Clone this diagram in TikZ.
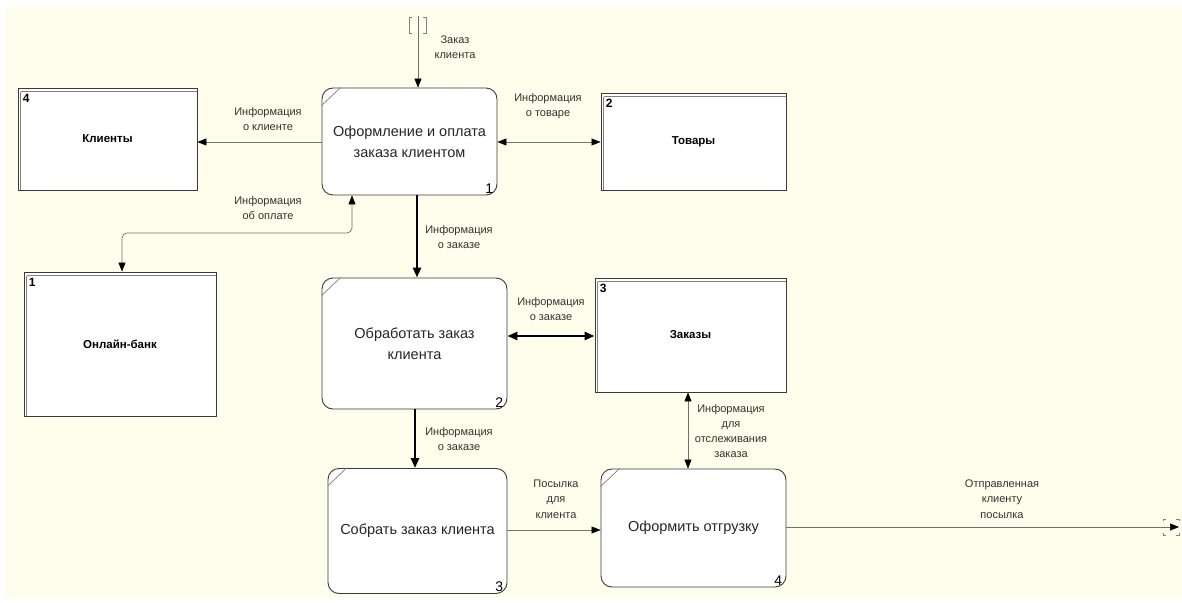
\documentclass[tikz,border=0pt]{standalone}
\usepackage{fontspec}
\setmainfont{Liberation Sans}
\usetikzlibrary{arrows.meta,calc}
\definecolor{cream}{HTML}{FFFDEC}
\definecolor{edge}{HTML}{3A3A3A}
\definecolor{thinline}{HTML}{707070}
\begin{document}
\begin{tikzpicture}[x=1pt,y=-1pt,
  proc/.style={draw=edge, line width=0.9pt, fill=white, rounded corners=11pt, inner sep=0pt, align=center, font=\fontsize{14.5}{21}\selectfont, text=black!85},
  store/.style={draw=edge, line width=0.9pt, fill=white, inner sep=0pt, font=\bfseries\fontsize{11.5}{13}\selectfont},
  lbl/.style={align=center, inner sep=0pt, font=\fontsize{11}{15.5}\selectfont, text=black!80},
  num/.style={inner sep=0pt, font=\fontsize{14}{14}\selectfont},
  snum/.style={inner sep=0pt, font=\bfseries\fontsize{12}{12}\selectfont},
  tip/.style={-{Triangle[length=9pt,width=7pt,color=black]}},
  dtip/.style={{Triangle[length=9pt,width=7pt,color=black]}-{Triangle[length=9pt,width=7pt,color=black]}},
  thinarr/.style={draw=thinline, line width=0.7pt},
  thickarr/.style={draw=black, line width=2.8pt},
  brk/.style={draw=gray, line width=0.6pt}
]
\useasboundingbox (0,0) rectangle (1182,602);
\fill[white] (0,0) rectangle (1182,602);
\fill[cream] (5,7) rectangle (1182,598);

% processes
\node[proc, minimum width=175pt, minimum height=107pt] (P1) at (409.5,141.5) {Оформление и оплата\\заказа клиентом};
\node[proc, minimum width=185pt, minimum height=131pt] (P2) at (414.5,343.5) {Обработать заказ\\клиента};
\node[proc, minimum width=179pt, minimum height=125pt] (P3) at (417.5,531) {Собрать заказ клиента};
\node[proc, minimum width=185pt, minimum height=118pt] (P4) at (693.5,528) {Оформить отгрузку};

\foreach \p/\n in {P1/1,P2/2,P3/3,P4/4}{
  \draw[draw=gray, line width=0.7pt] ($(\p.north west)+(0,18)$) -- ($(\p.north west)+(19,0)$);
  \node[num, anchor=south east] at ($(\p.south east)+(-4,-2)$) {\n};
}

% stores
\node[store, minimum width=179pt, minimum height=102pt] (S4) at (107.5,139) {Клиенты};
\node[store, minimum width=185pt, minimum height=97pt] (S2) at (693.5,141.5) {Товары};
\node[store, minimum width=192pt, minimum height=144pt] (S1) at (120,344) {Онлайн-банк};
\node[store, minimum width=191pt, minimum height=114pt] (S3) at (690.5,335) {Заказы};

\foreach \s/\n in {S4/4,S2/2,S1/1,S3/3}{
  \draw[draw=gray, line width=0.7pt] ($(\s.north west)+(3,4)$) -- ($(\s.north east)+(0,4)$);
  \draw[draw=gray, line width=0.7pt] ($(\s.north west)+(3,4)$) -- ($(\s.south west)+(3,0)$);
  \node[snum, anchor=north west] at ($(\s.north west)+(5,6)$) {\n};
}

% external references
\draw[brk] (412,17) -- (409,17) -- (409,33) -- (412,33);
\draw[brk] (423,17) -- (426,17) -- (426,33) -- (423,33);
\coordinate (ExtOut) at (1179,527);
\draw[brk] (1166,519) -- (1163,519) -- (1163,521);
\draw[brk] (1163,533) -- (1163,535) -- (1166,535);
\draw[brk] (1176,519) -- (1179,519) -- (1179,521);
\draw[brk] (1179,533) -- (1179,535) -- (1176,535);
\coordinate (ExtIn) at (418,16);

% connectors
\draw[thinarr, tip] (ExtIn) -- (418,0 |- P1.north);
\draw[thinarr, tip] (P1.west |- 0,142) -- (S4.east |- 0,142);
\draw[thinarr, dtip] (P1.east |- 0,142) -- (S2.west |- 0,142);
\draw[thinarr, dtip, rounded corners=5pt] (352,0 |- P1.south) -- (352,233) -- (122,233) -- (122,0 |- S1.north);
\draw[thickarr, -{Triangle[length=10pt,width=8pt]}] (417,0 |- P1.south) -- (417,0 |- P2.north);
\draw[thickarr, {Triangle[length=10pt,width=8pt]}-{Triangle[length=10pt,width=8pt]}] (P2.east |- 0,336) -- (S3.west |- 0,336);
\draw[thickarr, -{Triangle[length=10pt,width=8pt]}] (415,0 |- P2.south) -- (415,0 |- P3.north);
\draw[thinarr, dtip] (688,0 |- S3.south) -- (688,0 |- P4.north);
\draw[thinarr, tip] (P3.east |- 0,530) -- (P4.west |- 0,530);
\draw[thinarr, tip] (P4.east |- 0,527) -- (ExtOut);

% labels
\node[lbl] (L1) at (455,47) {Заказ\\клиента};
\node[lbl] (L2) at (268,119) {Информация\\о клиенте};
\node[lbl] (L3) at (548,106) {Информация\\о товаре};
\node[lbl] (L4) at (268,208) {Информация\\об оплате};
\node[lbl] (L5) at (459,237) {Информация\\о заказе};
\node[lbl] (L6) at (551,309) {Информация\\о заказе};
\node[lbl] (L7) at (459,439) {Информация\\о заказе};
\node[lbl, font=\fontsize{11}{14.8}\selectfont] (L8) at (731,431) {Информация\\для\\отслеживания\\заказа};
\node[lbl] (L9) at (556,499) {Посылка\\для\\клиента};
\node[lbl] (L10) at (1002,499) {Отправленная\\клиенту\\посылка};
\end{tikzpicture}
\end{document}
